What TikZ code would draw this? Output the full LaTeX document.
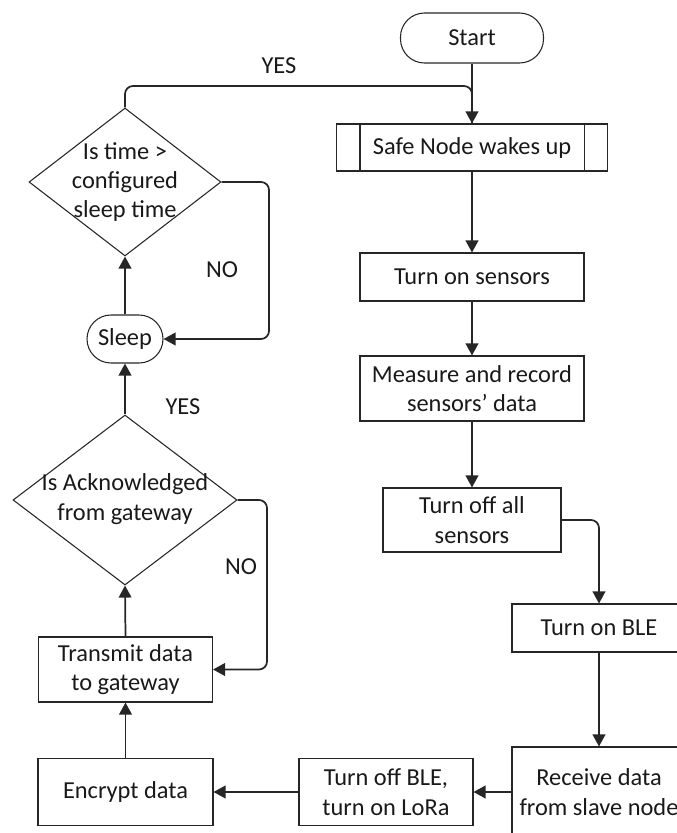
\documentclass[tikz,border=0pt]{standalone}
\usepackage{fontspec}
\setmainfont{Carlito}
\usetikzlibrary{arrows.meta,shapes.geometric}
\begin{document}
\begin{tikzpicture}[x=0.75pt,y=-0.75pt,
  every node/.style={font=\fontsize{18.3}{22}\selectfont, text=black!90},
  box/.style={draw=black!85, line width=0.8pt, rectangle, inner sep=0pt, align=center},
  term/.style={box, rounded corners=18pt},
  dia/.style={draw=black!85, line width=0.8pt, diamond, inner sep=0pt, aspect=1},
  conn/.style={draw=black!85, line width=1.3pt, rounded corners=6pt},
  arr/.style={conn, -{Triangle[length=9pt,width=9.5pt]}},
  lbl/.style={inner sep=0pt}]
\useasboundingbox (0,0) rectangle (676,833);

% nodes
\node[term, minimum width=107.25pt, minimum height=37.5pt] (start) at (472,38) {Start};
\node[box, minimum width=203.25pt, minimum height=35.25pt] (safe) at (472,147.5) {Safe Node wakes up};
\draw[draw=black!85, line width=0.8pt] ([xshift=18pt]safe.north west) -- ([xshift=18pt]safe.south west);
\draw[draw=black!85, line width=0.8pt] ([xshift=-18pt]safe.north east) -- ([xshift=-18pt]safe.south east);
\node[box, minimum width=168pt, minimum height=36pt] (son) at (472,277) {Turn on sensors};
\node[box, minimum width=168pt, minimum height=48.75pt] (meas) at (472,388.5) {Measure and record\\sensors’ data};
\node[box, minimum width=133.5pt, minimum height=48pt] (soff) at (472,520) {Turn off all\\sensors};
\node[box, minimum width=130.5pt, minimum height=36pt] (bleon) at (599,628) {Turn on BLE};
\node[box, minimum width=130.5pt, minimum height=67.5pt] (recv) at (599,792) {Receive data\\from slave node};
\node[box, minimum width=130.5pt, minimum height=50.25pt] (bleoff) at (386,792) {Turn off BLE,\\turn on LoRa};
\node[box, minimum width=131.25pt, minimum height=50.25pt] (enc) at (125.5,792) {Encrypt data};
\node[box, minimum width=130.5pt, minimum height=48.75pt] (tx) at (125.5,669.5) {Transmit data\\to gateway};
\node[dia, minimum width=168pt, minimum height=127.5pt] (ack) at (125,500) {};
\node[align=center, inner sep=0pt] at (125,499) {Is Acknowledged\\from gateway};
\node[term, minimum width=57pt, minimum height=36pt] (sleep) at (125,339) {Sleep};
\node[dia, minimum width=144pt, minimum height=111pt] (tq) at (125,182) {};
\node[align=center, inner sep=0pt] at (125,182) {Is time >\\configured\\sleep time};

% labels
\node[lbl] (yes1) at (279,66) {YES};
\node[lbl] (no1) at (222,270) {NO};
\node[lbl] (yes2) at (183,407) {YES};
\node[lbl] (no2) at (241,567) {NO};

% coordinates
\coordinate (yj) at (472,86);
\coordinate (n1) at (269,339);
\coordinate (n2) at (267,669.5);

% connectors
\draw[arr] (start) -- (safe);
\draw[conn] (tq.north) |- (yj) -- (safe.north);
\draw[arr] (safe) -- (son);
\draw[arr] (son) -- (meas);
\draw[arr] (meas) -- (soff);
\draw[arr] (soff.east) -| (bleon.north);
\draw[arr] (bleon) -- (recv);
\draw[arr] (recv) -- (bleoff);
\draw[arr] (bleoff) -- (enc);
\draw[arr] (enc) -- (tx);
\draw[arr] (tx.north) -- (ack.south);
\draw[arr] (ack.east) -| (n2) -- (tx.east);
\draw[arr] (ack.north) -- (sleep.south);
\draw[arr] (sleep.north) -- (tq.south);
\draw[arr] (tq.east) -| (n1) -- (sleep.east);
\end{tikzpicture}
\end{document}
